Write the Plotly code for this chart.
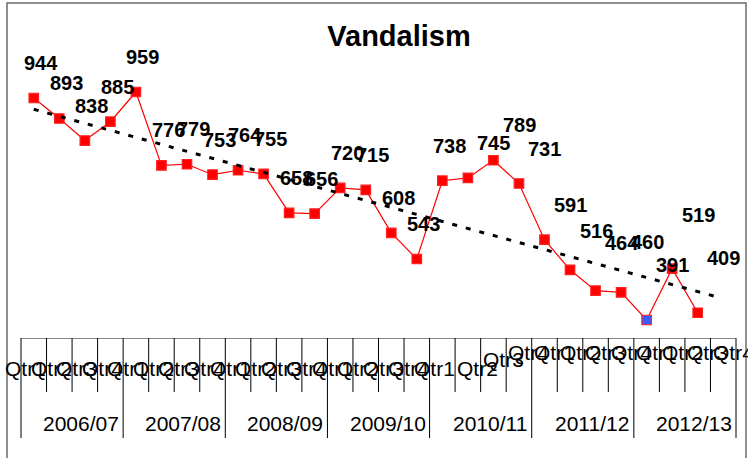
import numpy as np
import plotly.graph_objects as go

# ---------------- data ----------------
years = ["2006/07", "2007/08", "2008/09", "2009/10", "2010/11", "2011/12", "2012/13"]
quarters = ["Qtr1", "Qtr2", "Qtr3", "Qtr4"]
values = [944, 893, 838, 885, 959, 776, 779, 753, 764, 755, 658, 656, 720, 715,
          608, 543, 738, 745, 789, 731, 591, 516, 464, 460, 391, 519, 409]

# ---------------- label placement tweaks (pixels) ----------------
label_dx = [7] * 17 + [26] * 10
label_dy = [35] * 21 + [39, 48, 50, 55, 54, 55]
qlabel_dx = [-8] * 17 + [10] * 11
qlabel_py = [368] * 18 + [359] + [352] * 9

FONT = "Liberation Sans, Arial, Helvetica, sans-serif"
W, H = 748, 458
ML, MR, MT, MB = 21, 12, 50, 120
PLOT_H = H - MT - MB
AXIS_PY = MT + PLOT_H

n_cat = len(years) * len(quarters)
xi = list(range(len(values)))

# marker styling: highlight the minimum
vmin_idx = int(np.argmin(values))
mcolors = ["#ff0000"] * len(values)
mcolors[vmin_idx] = "#3b5bff"

fig = go.Figure()
fig.add_trace(go.Scatter(
    x=xi, y=values, mode="lines+markers",
    line=dict(color="#ff0000", width=1.2),
    marker=dict(symbol="square", size=9.5, color=mcolors,
                line=dict(color="#ff2020", width=1.2)),
    hoverinfo="skip", showlegend=False,
))

# linear trend line
coef = np.polyfit(xi, values, 1)
tx = np.array([0, len(values) - 1 + 0.7])
fig.add_trace(go.Scatter(
    x=tx, y=np.polyval(coef, tx), mode="lines",
    line=dict(color="black", width=3, dash="5px,9px"),
    hoverinfo="skip", showlegend=False,
))

annotations = []
# data labels
for i, v in enumerate(values):
    annotations.append(dict(
        x=i, y=v, xref="x", yref="y", text=f"<b>{v}</b>", showarrow=False,
        xanchor="center", yanchor="middle",
        xshift=label_dx[i], yshift=label_dy[i],
        font=dict(family=FONT, size=20, color="black"),
    ))
# quarter labels
for i in range(n_cat):
    annotations.append(dict(
        x=i, y=0, xref="x", yref="paper", text=quarters[i % len(quarters)],
        showarrow=False, xanchor="center", yanchor="middle",
        xshift=qlabel_dx[i], yshift=AXIS_PY - qlabel_py[i],
        font=dict(family=FONT, size=21, color="black"),
    ))
# year labels
for j, yr in enumerate(years):
    annotations.append(dict(
        x=j * len(quarters) + (len(quarters) - 1) / 2, y=0, xref="x", yref="paper",
        text=yr, showarrow=False, xanchor="center", yanchor="middle",
        xshift=9, yshift=AXIS_PY - 423,
        font=dict(family=FONT, size=21, color="black"),
    ))

shapes = []
# category tick / divider lines
for b in range(n_cat + 1):
    long = (b % len(quarters) == 0)
    bottom = 438 if long else 392
    shapes.append(dict(
        type="line", xref="paper", yref="paper",
        x0=b / n_cat, x1=b / n_cat, y0=0, y1=-(bottom - AXIS_PY) / PLOT_H,
        line=dict(color="black", width=1),
    ))
# outer chart border
PW = W - ML - MR
shapes.append(dict(
    type="rect", xref="paper", yref="paper",
    x0=(7 - ML) / PW, x1=(746 - ML) / PW,
    y0=(AXIS_PY - 490) / PLOT_H, y1=(AXIS_PY - 3) / PLOT_H,
    line=dict(color="#6a6a6a", width=1.5), fillcolor="rgba(0,0,0,0)",
))

# y mapping: value 959 at pixel 92, 0.4014 px per unit
px_per = 0.4014
y_lo = 959 - (AXIS_PY - 92) / px_per
y_hi = y_lo + PLOT_H / px_per

fig.update_layout(
    width=W, height=H, autosize=False,
    margin=dict(l=ML, r=MR, t=MT, b=MB, pad=0),
    paper_bgcolor="white", plot_bgcolor="white",
    title=dict(text="<b>Vandalism</b>", x=399 / W, xanchor="center",
               y=1 - 36 / H, yanchor="middle", yref="container",
               font=dict(family=FONT, size=29, color="black")),
    xaxis=dict(range=[-0.5, n_cat - 0.5], showticklabels=False, showgrid=False,
               zeroline=False, showline=True, linecolor="#888", linewidth=1,
               ticks=""),
    yaxis=dict(range=[y_lo, y_hi], visible=False, showgrid=False, zeroline=False),
    annotations=annotations, shapes=shapes,
)

fig.write_html("out.html", config={"displayModeBar": False},
               post_script="document.body.style.margin='0';document.body.style.padding='0';")
